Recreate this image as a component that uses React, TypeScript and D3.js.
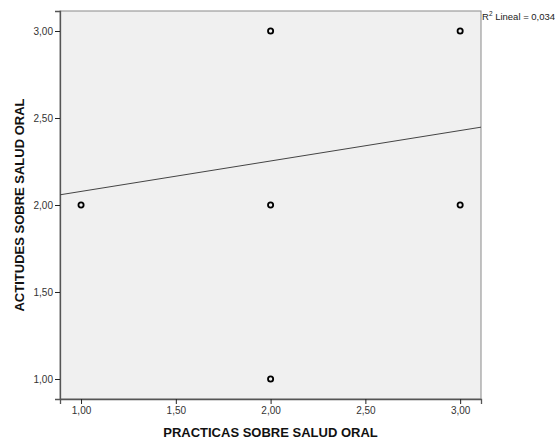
import React, { useEffect, useRef } from 'react';
import * as d3 from 'd3';

// practicas (x) vs actitudes (y)
const practicas = [1, 2, 2, 2, 3, 3];
const actitudes = [2, 3, 2, 1, 3, 2];
const tickValues = [1, 1.5, 2, 2.5, 3];
const fitIntercept = 1.903;
const fitSlope = 0.175;
const r2Text = 'Lineal = 0,034';

const App = () => {
    const svgRef = useRef<SVGSVGElement>(null);

    useEffect(() => {
        const svg = d3.select(svgRef.current);
        svg.selectAll('*').remove();

        const margin = { top: 11, right: 74, bottom: 41, left: 60 };
        const width = 555;
        const height = 440;
        const font = 'Arial, "Liberation Sans", sans-serif';
        const fmt = (d: number) => d3.format('.2f')(d).replace('.', ',');

        const x = d3.scaleLinear().domain([0.889, 3.11]).range([margin.left, width - margin.right]);
        const y = d3.scaleLinear().domain([0.885, 3.115]).range([height - margin.bottom, margin.top]);

        svg.append('rect')
            .attr('x', margin.left)
            .attr('y', margin.top)
            .attr('width', width - margin.right - margin.left)
            .attr('height', height - margin.bottom - margin.top)
            .attr('fill', '#f0f0f0')
            .attr('stroke', '#8a8a8a')
            .attr('stroke-width', 1);

        const xAxis = svg.append('g')
            .attr('transform', `translate(0,${height - margin.bottom})`)
            .call(d3.axisBottom(x).tickValues(tickValues).tickFormat(d => fmt(+d)).tickSizeOuter(0).tickSize(5).tickPadding(3));
        const yAxis = svg.append('g')
            .attr('transform', `translate(${margin.left},0)`)
            .call(d3.axisLeft(y).tickValues(tickValues).tickFormat(d => fmt(+d)).tickSizeOuter(0).tickSize(5).tickPadding(2));

        [xAxis, yAxis].forEach(g => {
            g.select('.domain').attr('stroke', '#555').attr('stroke-width', 1.3);
            g.selectAll('.tick line').attr('stroke', '#222');
            g.selectAll('.tick text').attr('font-family', font).attr('font-size', 10).attr('fill', '#333');
        });

        // fit line
        const [x0, x1] = x.domain();
        svg.append('line')
            .attr('x1', x(x0))
            .attr('y1', y(fitIntercept + fitSlope * x0))
            .attr('x2', x(x1))
            .attr('y2', y(fitIntercept + fitSlope * x1))
            .attr('stroke', '#444')
            .attr('stroke-width', 1);

        svg.append('g')
            .selectAll('circle')
            .data(practicas.map((p, i) => [p, actitudes[i]]))
            .join('circle')
            .attr('cx', d => x(d[0]))
            .attr('cy', d => y(d[1]))
            .attr('r', 2.6)
            .attr('fill', 'none')
            .attr('stroke', '#000')
            .attr('stroke-width', 1.8);

        const r2 = svg.append('text')
            .attr('x', width - margin.right + 1)
            .attr('y', 20)
            .attr('font-family', font)
            .attr('font-size', 9.5)
            .attr('fill', '#222');
        r2.append('tspan').text('R');
        r2.append('tspan').attr('font-size', 6.5).attr('dy', -4).text('2');
        r2.append('tspan').attr('dy', 4).text(' ' + r2Text);

        svg.append('text')
            .attr('x', (margin.left + width - margin.right) / 2)
            .attr('y', 437)
            .attr('text-anchor', 'middle')
            .attr('font-family', font)
            .attr('font-weight', 'bold')
            .attr('font-size', 13)
            .attr('fill', '#111')
            .text('PRACTICAS SOBRE SALUD ORAL');

        svg.append('text')
            .attr('transform', `translate(24,${(margin.top + height - margin.bottom) / 2}) rotate(-90)`)
            .attr('text-anchor', 'middle')
            .attr('font-family', font)
            .attr('font-weight', 'bold')
            .attr('font-size', 13)
            .attr('fill', '#111')
            .text('ACTITUDES SOBRE SALUD ORAL');
    }, []);

    return (
        <svg ref={svgRef} width={555} height={440} style={{ position: 'absolute', left: 0, top: 0 }}></svg>
    );
};

export default App;
